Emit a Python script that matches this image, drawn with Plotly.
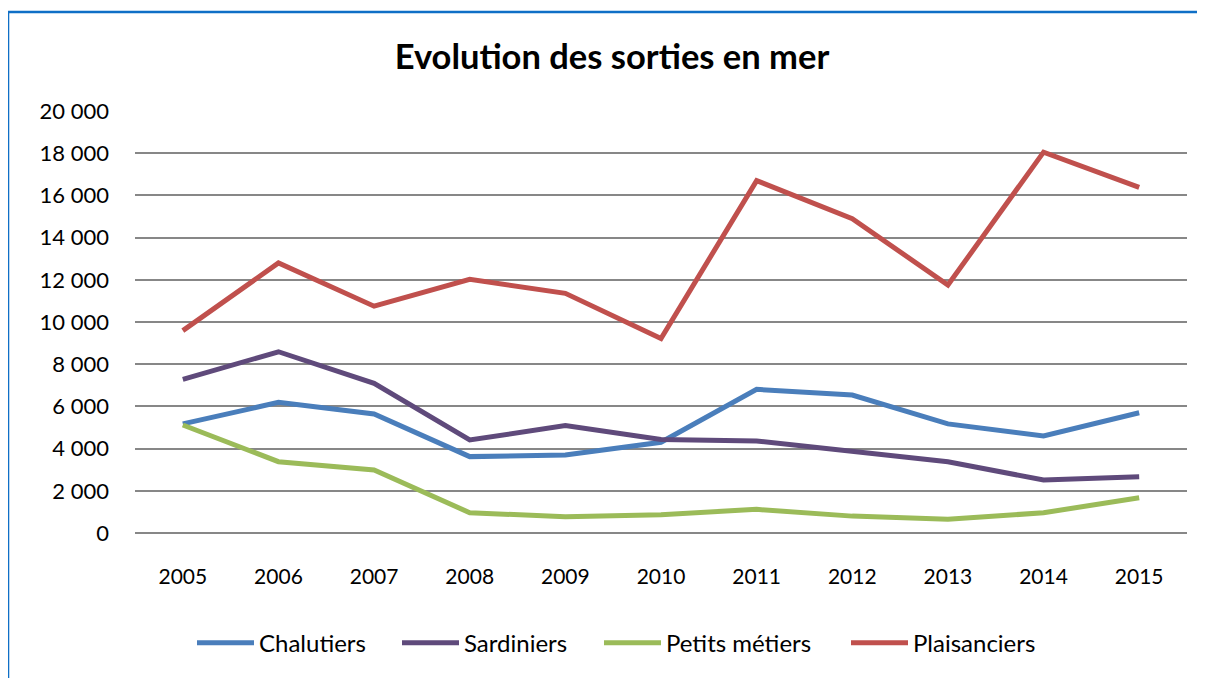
import plotly.graph_objects as go

years = ["2005", "2006", "2007", "2008", "2009", "2010", "2011", "2012", "2013", "2014", "2015"]
chalutiers = [5170, 6190, 5640, 3620, 3700, 4300, 6810, 6540, 5170, 4600, 5700]
sardiniers = [7280, 8590, 7090, 4410, 5090, 4430, 4360, 3890, 3380, 2510, 2670]
petits_metiers = [5120, 3380, 2990, 960, 770, 870, 1120, 800, 650, 960, 1670]
plaisanciers = [9590, 12800, 10750, 12020, 11360, 9220, 16700, 14900, 11750, 18050, 16380]

series = [
    ("Chalutiers", chalutiers, "#4a7ebb"),
    ("Sardiniers", sardiniers, "#5f4a7b"),
    ("Petits métiers", petits_metiers, "#9bbb59"),
    ("Plaisanciers", plaisanciers, "#c0504d"),
]

font = "Lato, Calibri, sans-serif"
W, H = 1197, 670  # the page body has an 8px margin
legend_left = [184, 389, 591, 838]  # px from figure left, one legend per series

fig = go.Figure()
legends = {}
for i, (name, vals, color) in enumerate(series):
    key = "legend" if i == 0 else f"legend{i + 1}"
    fig.add_trace(go.Scatter(x=years, y=vals, name=name, mode="lines", legend=key,
                             line=dict(color=color, width=5)))
    legends[key] = dict(orientation="h", xref="container", x=legend_left[i] / W, xanchor="left",
                        yref="container", y=0.052, yanchor="middle", bgcolor="rgba(0,0,0,0)",
                        font=dict(size=24, family=font), itemwidth=57)

fig.update_layout(
    width=W, height=H,
    margin=dict(l=127, r=18, t=103, b=145),
    paper_bgcolor="white", plot_bgcolor="white",
    separators=", ",
    font=dict(family=font, size=22, color="#000000"),
    title=dict(text="<b>Evolution des sorties en mer</b>", x=0.5046, xanchor="center",
               y=0.927, yanchor="middle", font=dict(size=34.5, family=font)),
    showlegend=True,
    **legends,
)

fig.update_xaxes(type="category", range=[-0.5, 10.5], showgrid=False,
                 showline=False, ticks="", tickfont=dict(size=21), ticklabelstandoff=29)
fig.update_yaxes(range=[0, 20000], dtick=2000, tickformat=",d", showgrid=True,
                 gridcolor="#878787", gridwidth=1.5, zeroline=True, zerolinecolor="#878787",
                 zerolinewidth=2, ticks="", tickfont=dict(size=22), ticklabelstandoff=25)

# blue frame round the chart (right and bottom edges fall well outside the picture)
fig.add_shape(type="rect", xref="paper", yref="paper",
              x0=-0.1207, x1=1.2, y0=-0.6, y1=1.2346,
              line=dict(color="#0f6fc6", width=2.5), fillcolor="rgba(0,0,0,0)", layer="below")

fig.write_html("out.html")
